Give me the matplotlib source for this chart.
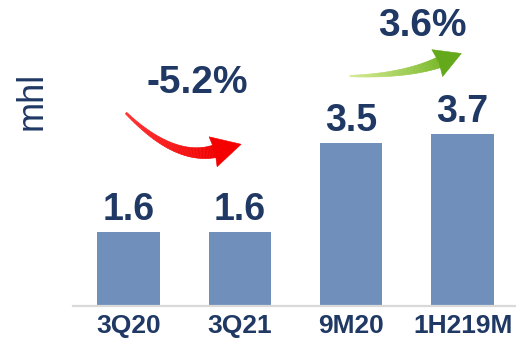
import numpy as np
import matplotlib
matplotlib.use("Agg")
import matplotlib.pyplot as plt
from matplotlib.patches import Polygon
from matplotlib.transforms import Affine2D

categories = ["3Q20", "3Q21", "9M20", "1H219M"]
values = [1.6, 1.6, 3.5, 3.7]
value_labels = ["1.6", "1.6", "3.5", "3.7"]
change_labels = ["-5.2%", "3.6%"]
unit_label = "mhl"

W, H = 516, 341
NAVY = "#1f3864"
BAR = "#7090bb"

plt.rcParams['font.family'] = ['Liberation Sans', 'DejaVu Sans']
fig = plt.figure(figsize=(W / 100, H / 100), dpi=100)
ax = fig.add_axes([73 / W, 1 - 306 / H, 1 - 73 / W, 306 / H])

x = np.arange(len(categories))
ax.bar(x, values, width=0.56, color=BAR, zorder=2)
ax.set_xlim(-0.5, 3.48)
ax.set_ylim(0, 6.58)

for s in ["top", "right", "left"]:
    ax.spines[s].set_visible(False)
ax.spines["bottom"].set_color("#d9d9d9")
ax.spines["bottom"].set_linewidth(1.6)
ax.set_yticks([])
ax.set_xticks(x)
ax.set_xticklabels(categories, fontsize=19, fontweight="bold", color=NAVY)
ax.tick_params(axis="x", length=0, pad=6)

for xi, v, lab in zip(x, values, value_labels):
    ax.annotate(lab, (xi, v), xytext=(0, 12), textcoords="offset pixels",
                ha="center", va="baseline", fontsize=27, fontweight="bold", color=NAVY)

fig.text(32 / W, 1 - 101 / H, unit_label, rotation=90, ha="center", va="center",
         fontsize=26, color=NAVY)

fig.text(197 / W, 1 - 83 / H, change_labels[0], ha="center", va="center",
         fontsize=28, fontweight="bold", color=NAVY)
fig.text(422 / W, 1 - 26 / H, change_labels[1], ha="center", va="center",
         fontsize=28, fontweight="bold", color=NAVY)

pix = Affine2D().scale(1 / W, -1 / H).translate(0, 1) + fig.transFigure


def curved_arrow(P0, P1, P2, w0, w1, head_len, head_w, colors_body, color_head, n=60):
    P0, P1, P2 = map(np.asarray, (P0, P1, P2))
    t = np.linspace(0, 1, n)[:, None]
    pts = (1 - t) ** 2 * P0 + 2 * (1 - t) * t * P1 + t ** 2 * P2
    der = 2 * (1 - t) * (P1 - P0) + 2 * t * (P2 - P1)
    tang = der / np.linalg.norm(der, axis=1, keepdims=True)
    nor = np.column_stack([-tang[:, 1], tang[:, 0]])
    wid = (w0 + (w1 - w0) * t[:, 0] ** 1.1)[:, None]
    left = pts + nor * wid / 2
    right = pts - nor * wid / 2
    c0 = np.array(matplotlib.colors.to_rgb(colors_body[0]))
    c1 = np.array(matplotlib.colors.to_rgb(colors_body[1]))
    for i in range(n - 1):
        f = i / (n - 2)
        col = c0 + (c1 - c0) * f
        quad = [left[i], left[i + 1], right[i + 1], right[i]]
        fig.patches.append(Polygon(quad, closed=True, transform=pix, facecolor=col,
                                   edgecolor=col, linewidth=0.4))
    d = tang[-1]
    nn = nor[-1]
    tip = P2 + d * head_len
    b1 = P2 + nn * head_w / 2 - d * 3
    b2 = P2 - nn * head_w / 2 - d * 3
    fig.patches.append(Polygon([b1, tip, b2, P2 - d * 1], closed=True, transform=pix,
                               facecolor=color_head, edgecolor=color_head, linewidth=0.4))


curved_arrow((126, 113), (175, 162), (216, 151), 2.0, 13, 26, 31,
             ("#ff3030", "#f00000"), "#f50000")
curved_arrow((350, 76), (405, 76), (440, 62), 1.5, 11, 23, 29,
             ("#d4ea90", "#78b828"), "#64a81c")

fig.savefig("out.png", dpi=100)
